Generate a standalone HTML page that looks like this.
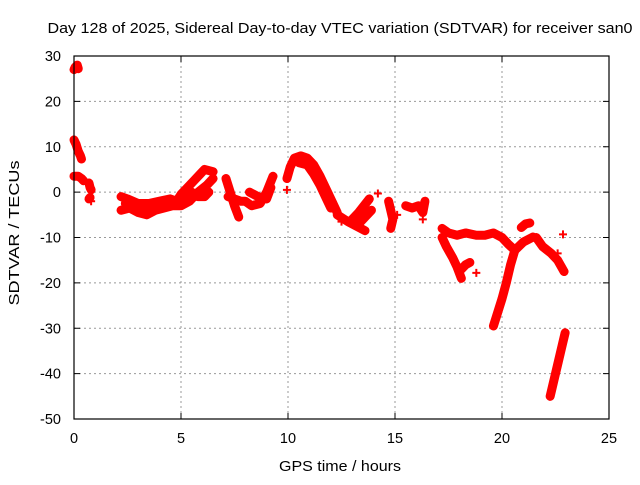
<!DOCTYPE html>
<html><head><meta charset="utf-8"><style>
body{margin:0;background:#fff}
svg{font-family:"Liberation Sans",sans-serif;font-size:14.5px}
</style></head><body>
<svg id="c" width="640" height="480">
<text x="340" y="33" text-anchor="middle" textLength="585" lengthAdjust="spacingAndGlyphs">Day 128 of 2025, Sidereal Day-to-day VTEC variation (SDTVAR) for receiver san0</text>
<text x="340" y="471" text-anchor="middle" textLength="122" lengthAdjust="spacingAndGlyphs">GPS time / hours</text>
<text transform="translate(19,233) rotate(-90)" text-anchor="middle" textLength="145" lengthAdjust="spacingAndGlyphs">SDTVAR / TECUs</text>
<g id="grid"></g><g id="marks"></g>
<rect x="74" y="56" width="535" height="363" fill="none" stroke="#000" stroke-width="1.2"/>
</svg>
<script>
const xTicks=[0,5,10,15,20,25];
const yTicks=[30,20,10,0,-10,-20,-30,-40,-50];
const track1=[[0,27],[0.05,27.5],[0.15,28],[0.2,27.2]];
const track2=[[0,11.5],[0.1,10.5],[0.2,9],[0.3,8],[0.35,7.3]];
const track3=[[0,3.5],[0.2,3.5],[0.35,3],[0.45,2.5]];
const track4=[[0.7,2],[0.75,1],[0.8,0.5]];
const track5=[[0.7,-1.5],[0.75,-1.2]];
const track6=[[2.2,-1],[2.5,-1.5],[3,-2.5],[3.5,-2.5],[4,-2],[4.5,-1.5],[4.8,-2],[5,-0.5],[5.3,1],[5.6,2.5],[5.9,4],[6.1,5],[6.5,4.5]];
const track7=[[2.2,-4],[2.6,-3.5],[3,-4.5],[3.4,-5],[3.8,-4],[4.2,-3.5],[4.6,-3],[5,-3],[5.4,-2],[5.8,0],[6.2,1.5],[6.5,3]];
const track8=[[2.4,-2.5],[2.9,-3.5],[3.4,-3.5],[3.9,-3],[4.4,-2.5],[5.2,-1],[5.5,0],[5.8,-1],[6.1,-1],[6.3,0]];
const track9=[[7.1,3],[7.3,0],[7.5,-3],[7.7,-5.5]];
const track10=[[7.2,-1],[7.5,-1.5],[7.8,-2],[8,-2],[8.3,-3],[8.7,-2.5],[9,0],[9.3,3.5]];
const track11=[[8.2,0],[8.6,-1],[9,-1.5],[9.2,1]];
const track12=[[9.95,3],[10.1,5.5],[10.3,7.5],[10.6,8],[10.9,7.5],[11.2,6],[11.5,3.5],[11.8,0.5],[12.1,-2.5],[12.3,-4.5]];
const track13=[[10.5,6.5],[10.9,6],[11.2,4],[11.5,1.5],[11.8,-1.5],[12,-3.5]];
const track14=[[12.3,-5],[12.8,-6.5],[13.2,-7.5],[13.6,-8.5]];
const track15=[[12.9,-6.5],[13.3,-4.5],[13.8,-1.5]];
const track16=[[13.3,-7],[13.9,-4]];
const track17=[[14.7,-2],[14.8,-4],[14.9,-6],[14.8,-8]];
const track18=[[15.5,-3],[15.8,-3.5],[16.1,-3],[16.3,-4.5],[16.4,-2]];
const track19=[[17.2,-8],[17.5,-9],[17.9,-9.5],[18.3,-9],[18.8,-9.5],[19.2,-9.5],[19.6,-9],[20,-10],[20.3,-11.5],[20.6,-12.8]];
const track20=[[17.2,-10],[17.4,-12],[17.7,-14.5],[17.9,-16.5],[18.1,-19]];
const track21=[[18.1,-17],[18.3,-16],[18.5,-15.5]];
const track22=[[20.6,-12.8],[20.4,-16],[20.2,-20],[20,-23.5],[19.8,-26.5],[19.6,-29.5]];
const track23=[[20.6,-12.8],[21,-11],[21.45,-9.9]];
const track24=[[20.9,-7.8],[21.1,-7],[21.3,-6.8]];
const track25=[[21.6,-10],[21.9,-12],[22.3,-13.5],[22.6,-15],[22.9,-17.5]];
const track26=[[22.95,-31],[22.8,-34],[22.6,-38],[22.4,-42],[22.25,-45]];
const singles=[[9.95,0.5],[14.2,-0.3],[15.1,-5],[16.3,-6],[18.8,-17.8],[22.85,-9.3],[22.6,-13.5],[12.5,-6.5],[0.8,-2]];
const tracks=[track1,track2,track3,track4,track5,track6,track7,track8,track9,track10,track11,track12,track13,track14,track15,track16,track17,track18,track19,track20,track21,track22,track23,track24,track25,track26];
const NS="http://www.w3.org/2000/svg";
function X(t){return 74+(t-0)/25*535;}
function Y(v){return 419-(v+50)/80*363;}
const g=document.getElementById('grid'),m=document.getElementById('marks');
function mk(tag,attrs,parent){const e=document.createElementNS(NS,tag);for(const k in attrs)e.setAttribute(k,attrs[k]);parent.appendChild(e);return e;}
xTicks.forEach(t=>{
 const x=X(t);
 if(t>0&&t<25){const l=mk('line',{x1:x,x2:x,y1:56,y2:419,stroke:'#999','stroke-dasharray':'2,3'},g);
 
 }
 mk('line',{x1:x,x2:x,y1:419,y2:413,stroke:'#000'},g);mk('line',{x1:x,x2:x,y1:56,y2:62,stroke:'#000'},g);
 const tx=mk('text',{x:x,y:443,'text-anchor':'middle'},g);tx.textContent=t;
 
 
});
yTicks.forEach(v=>{
 const y=Y(v);
 if(v>-50&&v<30){const l=mk('line',{x1:74,x2:609,y1:y,y2:y,stroke:'#999','stroke-dasharray':'2,3'},g);
 
 }
 mk('line',{x1:74,x2:80,y1:y,y2:y,stroke:'#000'},g);mk('line',{x1:609,x2:603,y1:y,y2:y,stroke:'#000'},g);
 const tx=mk('text',{x:61,y:y+5,'text-anchor':'end'},g);tx.textContent=v;
 
 
});
function plus(t,v){
 const p=mk('path',{d:`M${X(t)-4},${Y(v)}h8M${X(t)},${Y(v)-4}v8`,stroke:'#f00','stroke-width':2,fill:'none'},m);
 
 
}
tracks.forEach(tr=>{
 const pl=mk('polyline',{points:tr.map(p=>X(p[0])+','+Y(p[1])).join(' '),fill:'none',stroke:'#f00','stroke-width':9,'stroke-linejoin':'round','stroke-linecap':'round'},m);
 
 
 tr.forEach(p=>plus(p[0],p[1]));
});
singles.forEach(p=>plus(p[0],p[1]));
</script>
</body></html>
